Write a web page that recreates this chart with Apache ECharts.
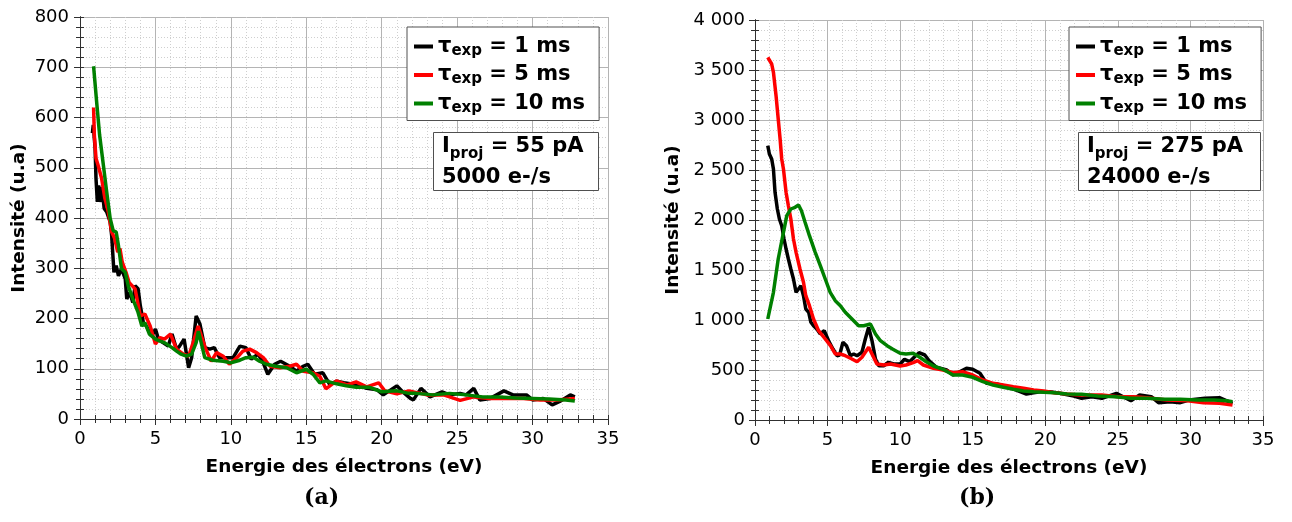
<!DOCTYPE html>
<html>
<head>
<meta charset="utf-8">
<script src="https://cdn.jsdelivr.net/npm/echarts@6/dist/echarts.min.js"></script>
<style>
  html, body { margin: 0; padding: 0; background: #fff; }
  #chart { width: 1292px; height: 522px; }
</style>
</head>
<body>
<div id="chart"></div>
<script>
// (a) 55 pA
var aBlackX = [0.82, 0.88, 1.0, 1.06, 1.15, 1.24, 1.32, 1.46, 1.6, 1.77, 2.0, 2.1, 2.25, 2.4, 2.55, 2.75, 3.0, 3.1, 3.3, 3.5, 3.65, 3.85, 4.0, 4.2, 4.4, 4.75, 5.0, 5.2, 5.5, 5.85, 6.1, 6.4, 6.6, 6.9, 7.2, 7.4, 7.7, 7.95, 8.27, 8.6, 8.9, 9.25, 9.7, 10.15, 10.6, 11.0, 11.35, 11.8, 12.1, 12.45, 12.9, 13.3, 13.9, 14.35, 14.8, 15.1, 15.55, 16.1, 16.55, 17.0, 17.5, 18.3, 19.0, 19.7, 20.1, 21.0, 21.4, 21.9, 22.1, 22.6, 23.2, 24.0, 24.5, 25.2, 25.6, 26.1, 26.5, 27.2, 28.1, 28.7, 29.6, 30.0, 30.7, 31.3, 31.8, 32.5, 32.8];
var aBlackY = [569, 585, 539, 479, 432, 465, 432, 462, 419, 412, 392, 365, 292, 305, 285, 299, 279, 239, 252, 232, 265, 259, 225, 192, 185, 165, 179, 159, 152, 145, 169, 139, 145, 159, 102, 122, 205, 189, 142, 139, 142, 122, 122, 122, 145, 142, 119, 129, 115, 89, 109, 115, 105, 95, 105, 109, 89, 92, 69, 75, 72, 68, 61, 58, 48, 66, 54, 41, 38, 61, 44, 54, 48, 51, 48, 61, 38, 41, 56, 48, 48, 38, 41, 28, 35, 48, 44];

var aRedX = [0.9, 0.95, 1.06, 1.2, 1.43, 1.65, 1.88, 2.1, 2.3, 2.5, 2.65, 2.8, 3.05, 3.25, 3.65, 4.0, 4.3, 4.65, 5.0, 5.3, 5.6, 6.0, 6.4, 6.85, 7.2, 7.5, 7.83, 8.3, 8.7, 9.05, 9.5, 9.9, 10.4, 10.8, 11.25, 11.7, 12.15, 12.6, 13.25, 13.9, 14.35, 14.8, 15.45, 15.9, 16.3, 17.0, 17.7, 18.3, 19.0, 19.8, 20.2, 21.0, 21.8, 22.1, 23.0, 24.1, 25.2, 26.1, 27.2, 28.3, 29.4, 30.5, 31.6, 32.8];
var aRedY = [620, 565, 519, 505, 479, 439, 412, 372, 359, 332, 339, 312, 292, 272, 259, 205, 209, 185, 149, 162, 159, 169, 139, 129, 125, 152, 185, 142, 115, 132, 125, 109, 122, 135, 139, 132, 122, 105, 102, 105, 109, 95, 92, 85, 60, 76, 68, 74, 64, 72, 56, 50, 56, 54, 48, 48, 37, 44, 41, 41, 41, 38, 38, 41];

var aGreenX = [0.9, 1.1, 1.3, 1.55, 1.77, 2.0, 2.2, 2.4, 2.55, 2.75, 3.0, 3.2, 3.5, 3.85, 4.1, 4.3, 4.6, 5.0, 5.3, 5.6, 6.1, 6.4, 6.7, 7.05, 7.4, 7.7, 7.85, 8.27, 8.8, 9.5, 10.0, 10.6, 11.0, 11.5, 11.9, 12.35, 13.0, 13.7, 14.35, 15.0, 15.45, 15.9, 16.3, 17.0, 17.65, 18.3, 19.2, 20.0, 21.0, 21.8, 22.3, 23.4, 24.5, 25.6, 26.7, 27.8, 28.9, 30.0, 31.1, 32.2, 32.8];
var aGreenY = [702, 632, 565, 505, 452, 399, 375, 372, 345, 299, 292, 265, 239, 212, 185, 192, 169, 159, 155, 152, 142, 135, 129, 125, 129, 152, 175, 122, 117, 115, 112, 117, 122, 123, 115, 109, 105, 102, 92, 99, 89, 72, 76, 70, 66, 63, 63, 54, 56, 51, 51, 48, 51, 48, 44, 44, 42, 41, 40, 38, 36];

// (b) 275 pA
var bBlackX = [0.88, 0.99, 1.15, 1.27, 1.38, 1.54, 1.68, 1.84, 2.0, 2.14, 2.3, 2.47, 2.65, 2.83, 3.0, 3.16, 3.34, 3.5, 3.7, 3.85, 4.03, 4.26, 4.5, 4.77, 5.07, 5.37, 5.65, 5.83, 6.06, 6.3, 6.57, 6.8, 7.03, 7.37, 7.6, 7.83, 8.06, 8.3, 8.53, 8.87, 9.2, 9.56, 10.0, 10.3, 10.65, 11.0, 11.3, 11.7, 12.0, 12.5, 13.2, 13.65, 14.1, 14.57, 15.0, 15.5, 15.95, 16.65, 17.35, 18.0, 18.7, 19.2, 19.65, 20.3, 21.0, 21.96, 22.5, 23.2, 23.9, 24.9, 25.9, 26.5, 27.3, 27.8, 28.6, 29.3, 29.9, 31.0, 32.0, 32.9];
var bBlackY = [2743, 2660, 2610, 2510, 2277, 2110, 2010, 1943, 1810, 1710, 1610, 1510, 1410, 1277, 1310, 1343, 1243, 1110, 1077, 977, 943, 910, 860, 893, 793, 710, 643, 650, 777, 743, 643, 660, 643, 677, 810, 927, 793, 610, 543, 543, 577, 560, 560, 607, 583, 633, 673, 650, 593, 527, 500, 450, 483, 517, 507, 467, 367, 360, 333, 300, 260, 273, 283, 283, 267, 240, 217, 233, 217, 267, 193, 250, 233, 173, 183, 173, 200, 217, 223, 167];

var bRedX = [0.88, 0.99, 1.15, 1.27, 1.45, 1.6, 1.73, 1.84, 1.96, 2.14, 2.3, 2.47, 2.65, 2.83, 3.1, 3.34, 3.5, 3.75, 4.03, 4.38, 4.84, 5.2, 5.53, 5.88, 6.22, 6.68, 7.03, 7.37, 7.6, 7.83, 8.06, 8.4, 8.87, 9.33, 10.0, 10.4, 10.9, 11.2, 11.6, 12.3, 12.95, 13.65, 14.3, 15.0, 15.7, 16.4, 17.1, 17.8, 18.5, 19.2, 19.9, 20.6, 21.5, 22.4, 23.9, 25.0, 26.1, 27.0, 28.4, 29.8, 30.9, 32.0, 32.9];
var bRedY = [3627, 3643, 3560, 3477, 3243, 3010, 2810, 2610, 2510, 2277, 2143, 2010, 1810, 1677, 1510, 1377, 1243, 1143, 1010, 893, 810, 743, 660, 660, 643, 610, 583, 627, 677, 727, 660, 560, 550, 560, 540, 550, 573, 593, 550, 517, 500, 473, 483, 450, 400, 367, 350, 333, 317, 300, 290, 273, 260, 250, 250, 233, 233, 223, 200, 193, 173, 167, 150];

var bGreenX = [0.88, 1.27, 1.6, 1.96, 2.19, 2.47, 2.76, 3.0, 3.2, 3.45, 3.75, 4.15, 4.5, 4.84, 5.18, 5.53, 5.88, 6.22, 6.68, 7.14, 7.49, 7.95, 8.3, 8.64, 9.1, 9.5, 10.0, 10.4, 10.9, 11.3, 11.8, 12.3, 12.95, 13.65, 14.3, 15.0, 15.7, 16.4, 17.1, 17.8, 18.5, 19.2, 19.9, 20.6, 21.5, 22.5, 23.6, 24.8, 25.9, 27.0, 28.2, 29.3, 30.5, 31.6, 32.5, 32.9];
var bGreenY = [1010, 1277, 1610, 1877, 2043, 2110, 2127, 2150, 2093, 1977, 1843, 1677, 1543, 1410, 1277, 1193, 1143, 1077, 1010, 943, 943, 960, 860, 793, 743, 707, 667, 660, 667, 633, 583, 540, 507, 450, 450, 427, 383, 350, 327, 307, 290, 283, 277, 273, 260, 257, 240, 233, 217, 217, 207, 207, 200, 200, 193, 183];

var seriesNames = ['1 ms', '5 ms', '10 ms'];
var seriesColors = ['#000000', '#ff0000', '#008000'];
var xTitle = 'Energie des électrons (eV)';
var yTitle = 'Intensité (u.a)';

var FONT = 'DejaVu Sans';
var axisColor = '#303030';

function zip(xs, ys) {
  var out = [];
  for (var i = 0; i < xs.length; i++) out.push([xs[i], ys[i]]);
  return out;
}

function spaced(v) {
  return String(v).replace(/\B(?=(\d{3})+(?!\d))/g, ' ');
}

// main axis (labels, outside ticks, grid) + inner ticks + mirrored side
function makeAxes(grid, dim, max, interval, nameGap, labelMargin) {
  var isX = dim === 'x';
  var base = {
    gridIndex: grid, type: 'value', min: 0, max: max, interval: interval,
    axisLine: { show: true, lineStyle: { color: axisColor, width: 1 } }
  };
  var main = Object.assign({}, base, {
    position: isX ? 'bottom' : 'left',
    name: isX ? xTitle : yTitle,
    nameLocation: 'middle',
    nameGap: nameGap,
    nameTextStyle: { fontFamily: FONT, fontWeight: 'bold', fontSize: 18.5, color: '#000' },
    axisTick: { show: true, inside: false, length: 6, lineStyle: { color: axisColor } },
    minorTick: { show: true, splitNumber: 5, length: 4, lineStyle: { color: axisColor } },
    axisLabel: {
      fontFamily: FONT, fontSize: 18, color: '#000', margin: labelMargin,
      formatter: function (v) { return spaced(v); }
    },
    splitLine: { show: true, lineStyle: { color: '#b4b4b4', width: 1 } },
    minorSplitLine: { show: true, lineStyle: { color: '#cfcfcf', width: 1, type: [1, 2] } }
  });
  var inner = Object.assign({}, base, {
    position: isX ? 'bottom' : 'left',
    axisTick: { show: true, inside: true, length: 4, lineStyle: { color: axisColor } },
    minorTick: { show: true, splitNumber: 5, length: 4, lineStyle: { color: axisColor } },
    axisLabel: { show: false }, splitLine: { show: false }
  });
  var mirror = Object.assign({}, base, {
    position: isX ? 'top' : 'right',
    axisTick: { show: true, inside: true, length: 5, lineStyle: { color: axisColor } },
    minorTick: { show: true, splitNumber: 5, length: 4, lineStyle: { color: axisColor } },
    axisLabel: { show: false }, splitLine: { show: false }
  });
  return [main, inner, mirror];
}

function lineSeries(name, color, xi, yi, xs, ys) {
  return {
    name: name, type: 'line', xAxisIndex: xi, yAxisIndex: yi,
    data: zip(xs, ys), showSymbol: false, symbol: 'none',
    lineStyle: { color: color, width: 3.5 }, itemStyle: { color: color }
  };
}

var legendRich = {
  t: { fontFamily: FONT, fontWeight: 'bold', fontSize: 21, color: '#000', lineHeight: 24 },
  s: { fontFamily: FONT, fontWeight: 'bold', fontSize: 15, color: '#000', lineHeight: 14, verticalAlign: 'bottom' }
};

function makeLegend(left) {
  return {
    orient: 'vertical', left: left, top: 27,
    data: seriesNames,
    icon: 'rect', itemWidth: 19, itemHeight: 4, itemGap: 6, itemTextGap: 7,
    padding: [9, 14, 5, 7],
    backgroundColor: '#fff', borderColor: '#505050', borderWidth: 1, borderRadius: 0,
    selectedMode: false,
    formatter: function (n) { return '{t|τ}{s|exp}{t| = ' + n + '}'; },
    textStyle: { rich: legendRich }
  };
}

var boxRich = {
  a: { fontFamily: FONT, fontWeight: 'bold', fontSize: 21, color: '#000', lineHeight: 31 },
  b: { fontFamily: FONT, fontWeight: 'bold', fontSize: 15, color: '#000', lineHeight: 21, verticalAlign: 'bottom' }
};

function infoBox(left, current, rate, padRight) {
  return {
    left: left, top: 127,
    text: '{a|I}{b|proj}{a| = ' + current + '}\n{a|' + rate + '}',
    padding: [4, padRight, 3, 9],
    backgroundColor: '#fff', borderColor: '#505050', borderWidth: 1,
    textStyle: { rich: boxRich }
  };
}

function caption(left, label) {
  return {
    left: left, top: 487, text: label, padding: 0,
    textStyle: { fontFamily: 'DejaVu Serif', fontWeight: 'bold', fontSize: 22, color: '#000' }
  };
}

var xAxes = makeAxes(0, 'x', 35, 5, 39, 11).concat(makeAxes(1, 'x', 35, 5, 39, 11));
var yAxes = makeAxes(0, 'y', 800, 100, 51, 11).concat(makeAxes(1, 'y', 4000, 500, 72, 10));

var option = {
  animation: false,
  backgroundColor: '#fff',
  grid: [
    { left: 80, top: 17, width: 528, height: 402, containLabel: false },
    { left: 755, top: 20, width: 508, height: 400, containLabel: false }
  ],
  xAxis: xAxes,
  yAxis: yAxes,
  legend: [makeLegend(407), makeLegend(1069)],
  title: [
    infoBox(433, '55 pA', '5000 e-/s', 15),
    infoBox(1078, '275 pA', '24000 e-/s', 18),
    caption(304, '(a)'),
    caption(959, '(b)')
  ],
  series: [
    lineSeries(seriesNames[0], seriesColors[0], 0, 0, aBlackX, aBlackY),
    lineSeries(seriesNames[1], seriesColors[1], 0, 0, aRedX, aRedY),
    lineSeries(seriesNames[2], seriesColors[2], 0, 0, aGreenX, aGreenY),
    lineSeries(seriesNames[0], seriesColors[0], 3, 3, bBlackX, bBlackY),
    lineSeries(seriesNames[1], seriesColors[1], 3, 3, bRedX, bRedY),
    lineSeries(seriesNames[2], seriesColors[2], 3, 3, bGreenX, bGreenY)
  ]
};

var chart = echarts.init(document.getElementById('chart'));
chart.setOption(option);
</script>
</body>
</html>
